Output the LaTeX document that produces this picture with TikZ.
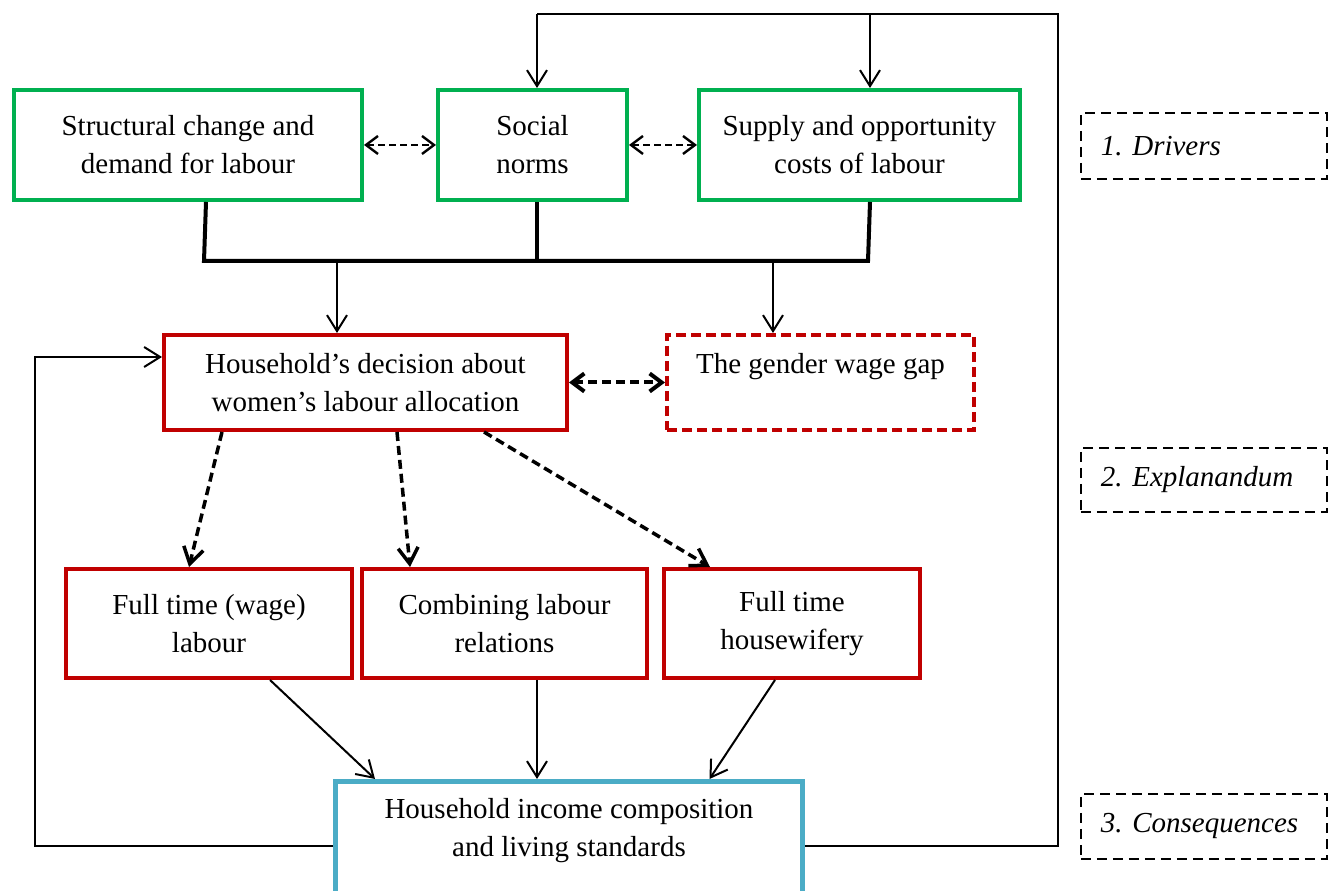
\documentclass[tikz,border=0pt]{standalone}
\usepackage{fontspec}
\setmainfont{Liberation Serif}
\usepackage{xcolor}
\usetikzlibrary{arrows.meta, positioning}
\definecolor{driverGreen}{HTML}{00B050}
\definecolor{choiceRed}{HTML}{C00000}
\definecolor{outcomeBlue}{HTML}{4BACC6}
\tikzset{
  body/.style={font=\fontsize{29}{38}\selectfont, text=black, align=center},
  box/.style={body, draw, line width=4pt, inner sep=6pt, anchor=north west},
  greenbox/.style={box, draw=driverGreen},
  redbox/.style={box, draw=choiceRed},
  gapbox/.style={redbox, dash pattern=on 10pt off 5pt},
  bluebox/.style={box, draw=outcomeBlue, line width=5pt},
  tagbox/.style={font=\frenchspacing\itshape\fontsize{29}{38}\selectfont, draw=black, line width=1.8pt, dash pattern=on 10pt off 6pt, text width=206pt, inner xsep=20pt, align=left, anchor=north west},
  plainline/.style={line width=2pt},
  conn/.style={-{Straight Barb[length=16pt,width=20pt]}, line width=2pt},
  bus/.style={line width=4pt},
  dasharrow/.style={-{Straight Barb[length=16pt,width=20pt]}, line width=3.5pt, dash pattern=on 9pt off 5pt},
  twoway/.style={{Straight Barb[length=12pt,width=18pt]}-{Straight Barb[length=12pt,width=18pt]}, line width=2.4pt, dash pattern=on 7pt off 4pt},
  twowaybold/.style={twoway, line width=4pt, dash pattern=on 9pt off 5pt}
}

\begin{document}
\begin{tikzpicture}[x=1pt,y=1pt]
\useasboundingbox (0,0) rectangle (1338,891);
\clip (0,0) rectangle (1338,891);

% drivers
\node[greenbox, minimum width=348pt, minimum height=110pt] (struct) at (12,803) {Structural change and\\demand for labour};
\node[greenbox, minimum width=189pt, minimum height=110pt] (social) at (436,803) {Social\\norms};
\node[greenbox, minimum width=321pt, minimum height=110pt] (supply) at (697,803) {Supply and opportunity\\costs of labour};

% explanandum
\node[redbox, minimum width=403pt, minimum height=95pt] (dec) at (162,558) {Household’s decision about\\women’s labour allocation};
\node[gapbox, minimum width=307pt, minimum height=95pt] (gap) at (665,558) {The gender wage gap\\\mbox{}};

\node[redbox, minimum width=286pt, minimum height=109pt] (wage) at (64,324) {Full time (wage)\\labour};
\node[redbox, minimum width=285pt, minimum height=109pt] (comb) at (360,324) {Combining labour\\relations};
\node[redbox, minimum width=256pt, minimum height=109pt] (hw) at (662,324) {Full time\\housewifery};

% consequences
\node[bluebox, minimum width=467pt, minimum height=130pt] (inc) at (333,112) {Household income composition\\and living standards\\\mbox{}};

% level tags
\node[tagbox, minimum height=66pt] (tag1) at (1080,779) {1. Drivers};
\node[tagbox, minimum height=64pt] (tag2) at (1080,444) {2. Explanandum};
\node[tagbox, minimum height=65pt] (tag3) at (1080,98) {3. Consequences};

\draw[twoway] (struct.east) -- (social.west);
\draw[twoway] (social.east) -- (supply.west);
\draw[twowaybold] (dec.east) -- (gap.west);

\coordinate (busL) at (204,630);
\coordinate (busR) at (868,630);
\draw[bus] ([xshift=18]struct.south) -- (busL) -- (busR) -- ([xshift=10.5]supply.south);
\draw[bus] ([xshift=4.5]social.south) -- ([xshift=4.5]social.south |- busL);
\draw[conn] ([xshift=-28.5]dec.north |- busL) -- ([xshift=-28.5]dec.north);
\draw[conn] ([xshift=-47.5]gap.north |- busL) -- ([xshift=-47.5]gap.north);

\draw[dasharrow] ([xshift=60]dec.south west) -- ([xshift=-20]wage.north);
\draw[dasharrow] ([xshift=31.5]dec.south) -- ([xshift=-94.5]comb.north);
\draw[dasharrow] ([xshift=118.5]dec.south) -- ([xshift=-82]hw.north);

\draw[conn] ([xshift=61]wage.south) -- ([xshift=42]inc.north west);
\draw[conn] ([xshift=32.5]comb.south) -- ([xshift=32.5]comb.south |- inc.north);
\draw[conn] ([xshift=-17]hw.south) -- ([xshift=140.5]inc.north);

% feedback loops
\coordinate (topR) at (1058,877);
\draw[plainline] (inc.east) -| (topR) -- ([xshift=4.5]social.north |- topR);
\draw[conn] ([xshift=4.5]social.north |- topR) -- ([xshift=4.5]social.north);
\draw[conn] ([xshift=10.5]supply.north |- topR) -- ([xshift=10.5]supply.north);
\draw[conn] (inc.west) -- ++(-298,0) |- ([yshift=25.5]dec.west);

\end{tikzpicture}
\end{document}
